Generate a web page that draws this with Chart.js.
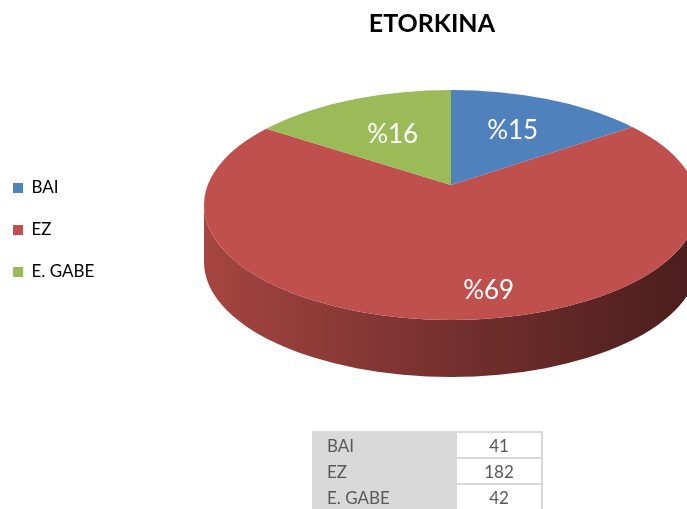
<!DOCTYPE html>
<html>
<head>
<meta charset="utf-8">
<script src="https://cdn.jsdelivr.net/npm/chart.js@4.4.0/dist/chart.umd.min.js"></script>
<style>
html, body { margin: 0; padding: 0; background: #fff; overflow: hidden; }
#wrap { position: relative; width: 687px; height: 509px; }
#tbl { position: absolute; left: 312px; top: 431px; border-collapse: collapse; font-family: Lato, sans-serif; font-size: 17px; color: #595959; }
#tbl td { height: 24px; padding: 0; border: 2px solid #d9d9d9; }
#tbl td.k { background: #d9d9d9; width: 128px; padding-left: 13px; }
#tbl td.v { background: #fff; width: 84px; text-align: center; }
</style>
</head>
<body>
<div id="wrap">
  <canvas id="canvas-pie" width="687" height="509"></canvas>
  <table id="tbl"></table>
</div>
<script>
const categories = ['BAI', 'EZ', 'E. GABE'];
const counts = [41, 182, 42];

const total = counts.reduce((a, b) => a + b, 0);
const percents = counts.map(v => Math.round(v / total * 100));

// the little data table under the chart
const tbl = document.getElementById('tbl');
categories.forEach((c, i) => {
    const tr = document.createElement('tr');
    tr.innerHTML = '<td class="k">' + c + '</td><td class="v">' + counts[i] + '</td>';
    tbl.appendChild(tr);
});

// fake 3d: paint the side wall, then squash the pie around a raised vertex
// and clip it to the top ellipse (gives the perspective look of excel)
const pie3d = {
    id: 'pie3d',
    beforeDatasetsDraw(chart, args, o) {
        const ctx = chart.ctx;
        const arcs = chart.getDatasetMeta(0).data;
        ctx.save();
        arcs.forEach((arc, i) => {
            const a = Math.max(arc.startAngle, 0);
            const b = Math.min(arc.endAngle, Math.PI);
            if (b <= a) return;
            const s = o.sides[i];
            const g = ctx.createLinearGradient(o.cx - o.rx, 0, o.cx + o.rx, 0);
            g.addColorStop(0, s[0]);
            g.addColorStop(0.5, s[1]);
            g.addColorStop(1, s[2]);
            ctx.beginPath();
            ctx.ellipse(o.cx, o.cy, o.rx, o.ry, 0, a, b);
            ctx.ellipse(o.cx, o.cy + o.depth, o.rx, o.ry, 0, b, a, true);
            ctx.closePath();
            ctx.fillStyle = g;
            ctx.fill();
        });
        ctx.restore();
        const r = arcs[0].outerRadius;
        ctx.save();
        ctx.beginPath();
        ctx.ellipse(o.cx, o.cy, o.rx, o.ry, 0, 0, Math.PI * 2);
        ctx.clip();
        ctx.translate(o.vx, o.vy);
        ctx.scale(o.vrx / r, o.vry / r);
        ctx.translate(-arcs[0].x, -arcs[0].y);
    },
    afterDatasetsDraw(chart, args, o) {
        const ctx = chart.ctx;
        ctx.restore();
        const arcs = chart.getDatasetMeta(0).data;
        ctx.save();
        ctx.fillStyle = '#fff';
        ctx.font = '26px Lato';
        ctx.textAlign = 'center';
        ctx.textBaseline = 'middle';
        arcs.forEach((arc, i) => {
            const m = (arc.startAngle + arc.endAngle) / 2;
            const f = o.labelRadius[i];
            const x = o.vx + o.vrx * f * Math.cos(m) + o.labelShiftX[i];
            const y = o.vy + o.vry * f * Math.sin(m);
            ctx.fillText('%' + percents[i], x, y);
        });
        ctx.restore();
    }
};

Chart.defaults.font.family = 'Lato';

const ctx = document.getElementById('canvas-pie').getContext('2d');
const myChart = new Chart(ctx, {
    type: 'pie',
    data: {
        labels: categories,
        datasets: [{
            data: counts,
            backgroundColor: ['#4f81bd', '#c0504d', '#9bbb59'],
            borderWidth: 0,
            clip: false
        }]
    },
    plugins: [pie3d],
    options: {
        responsive: false,
        animation: false,
        events: [],
        // right padding only moves the title, the pie is placed by pie3d
        layout: { padding: { left: -12, bottom: 49, right: 192 } },
        plugins: {
            title: {
                display: true,
                text: 'ETORKINA',
                color: '#000',
                align: 'end',
                fullSize: false,
                font: { size: 25, weight: 'bold' },
                padding: { top: 9, bottom: 0 }
            },
            legend: {
                position: 'left',
                labels: {
                    boxWidth: 10,
                    boxHeight: 10,
                    padding: 25,
                    color: '#000',
                    font: { size: 17 }
                }
            },
            tooltip: { enabled: false },
            pie3d: {
                cx: 451, cy: 205, rx: 247, ry: 115, depth: 57,
                vx: 451, vy: 185, vrx: 330, vry: 155,
                sides: [
                    ['#5a7fae', '#3f5f86', '#2b405a'],
                    ['#a64541', '#74302e', '#4a1d1c'],
                    ['#8fae52', '#6a833c', '#465728']
                ],
                labelRadius: [0.40, 0.68, 0.37],
                labelShiftX: [0, 35, 0]
            }
        }
    }
});
</script>
</body>
</html>
